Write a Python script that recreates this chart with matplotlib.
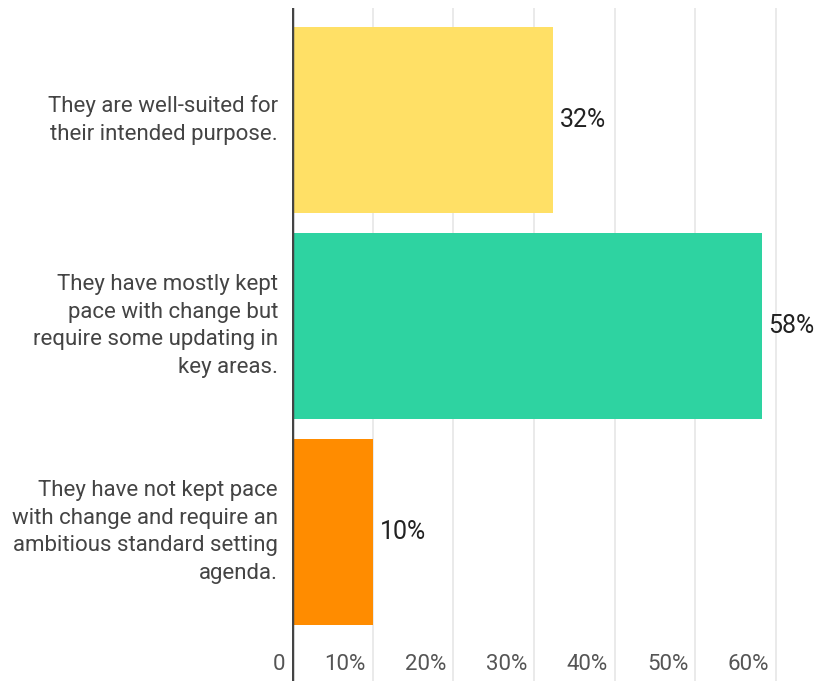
import numpy as np
import matplotlib
matplotlib.use('Agg')
import matplotlib.pyplot as plt
from matplotlib import transforms

# datos
categorias = ['They are well-suited for\ntheir intended purpose.',
              'They have mostly kept\npace with change but\nrequire some updating in\nkey areas.',
              'They have not kept pace\nwith change and require an\nambitious standard setting\nagenda.']
valores = [32.3, 58.2, 10.1]
colores = ['#FFE066', '#2ED3A1', '#FF8C00']
xticks = [0, 10, 20, 30, 40, 50, 60]
xtick_labels = ['0', '10%', '20%', '30%', '40%', '50%', '60%']

plt.rcParams['font.family'] = ['Roboto', 'DejaVu Sans']

fig = plt.figure(figsize=(8.14, 6.81), dpi=100)
ax = fig.add_axes([292/814, 0, 1 - 292/814, 673/681])

y = np.arange(len(categorias))
ax.barh(y, valores, height=0.9, color=colores, zorder=2)

ax.set_xlim(0, 64.7)
ax.set_ylim(2.723, -0.544)

# grilla vertical
for xt in xticks[1:]:
    ax.axvline(xt, color='#e8e8e8', lw=1.3, zorder=1)
ax.axvline(0, color='#444444', lw=2.5, zorder=3)

for s in ax.spines.values():
    s.set_visible(False)
ax.set_xticks([])
ax.set_yticks([])

# etiquetas de los ejes dentro del area
trans = transforms.blended_transform_factory(ax.transData, ax.transAxes)
for xt, lab in zip(xticks, xtick_labels):
    ax.annotate(lab, xy=(xt, 0.024), xycoords=trans, xytext=(-5, 0),
                textcoords='offset points', ha='right', va='center',
                fontsize=16, color='#555555')

for yi, cat in zip(y, categorias):
    ax.annotate(cat, xy=(0, yi), xycoords='data', xytext=(-10, 0),
                textcoords='offset points', ha='right', va='center',
                fontsize=16, color='#444444', linespacing=1.4,
                annotation_clip=False)

for yi, v in zip(y, valores):
    ax.annotate('%d%%' % round(v), xy=(v, yi), xytext=(5, 0),
                textcoords='offset points', ha='left', va='center',
                fontsize=18, color='#222222')

fig.savefig('out.png', dpi=100)
